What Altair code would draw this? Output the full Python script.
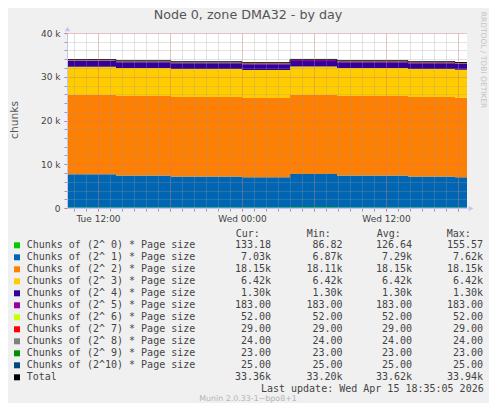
import altair as alt
import pandas as pd

# ---------------- data ----------------
times = ["2026-04-14T09:25:00", "2026-04-14T13:30:00", "2026-04-14T18:05:00",
         "2026-04-15T00:00:00", "2026-04-15T04:00:00", "2026-04-15T07:55:00",
         "2026-04-15T13:50:00", "2026-04-15T17:45:00", "2026-04-15T18:45:00"]

series_names = ["Chunks of (2^ 0) * Page size", "Chunks of (2^ 1) * Page size",
                "Chunks of (2^ 2) * Page size", "Chunks of (2^ 3) * Page size",
                "Chunks of (2^ 4) * Page size", "Chunks of (2^ 5) * Page size",
                "Chunks of (2^ 6) * Page size", "Chunks of (2^ 7) * Page size",
                "Chunks of (2^ 8) * Page size", "Chunks of (2^ 9) * Page size",
                "Chunks of (2^10) * Page size"]
series_colors = ["#00CC00", "#0066B3", "#FF8000", "#FFCC00", "#330099", "#990099",
                 "#CCFF00", "#FF0000", "#808080", "#008F00", "#00487D"]

s0 = [130, 120, 125, 135, 150, 140, 110, 133, 133]
s1 = [7600, 7310, 7090, 6880, 7600, 7300, 7100, 6900, 6900]
s2 = [18150, 18150, 18140, 18130, 18150, 18150, 18150, 18150, 18150]
s3 = [6420, 6420, 6420, 6420, 6420, 6420, 6420, 6420, 6420]
s4 = [1300, 1300, 1300, 1300, 1300, 1300, 1300, 1300, 1300]
s5 = [183, 183, 183, 183, 183, 183, 183, 183, 183]
s6 = [52, 52, 52, 52, 52, 52, 52, 52, 52]
s7 = [29, 29, 29, 29, 29, 29, 29, 29, 29]
s8 = [24, 24, 24, 24, 24, 24, 24, 24, 24]
s9 = [23, 23, 23, 23, 23, 23, 23, 23, 23]
s10 = [25, 25, 25, 25, 25, 25, 25, 25, 25]
series_values = [s0, s1, s2, s3, s4, s5, s6, s7, s8, s9, s10]

leg_names = series_names + ["Total"]
leg_colors = series_colors + ["#000000"]
leg_cur = ["133.18", "7.03k", "18.15k", "6.42k", "1.30k", "183.00", "52.00", "29.00",
           "24.00", "23.00", "25.00", "33.36k"]
leg_min = ["86.82", "6.87k", "18.11k", "6.42k", "1.30k", "183.00", "52.00", "29.00",
           "24.00", "23.00", "25.00", "33.20k"]
leg_avg = ["126.64", "7.29k", "18.15k", "6.42k", "1.30k", "183.00", "52.00", "29.00",
           "24.00", "23.00", "25.00", "33.62k"]
leg_max = ["155.57", "7.62k", "18.15k", "6.42k", "1.30k", "183.00", "52.00", "29.00",
           "24.00", "23.00", "25.00", "33.94k"]
headers = ["Cur:", "Min:", "Avg:", "Max:"]

title_text = ["Node 0, zone DMA32 - by day"]
ytitle_text = ["chunks"]
side_text = ["RRDTOOL / TOBI OETIKER"]
update_text = ["Last update: Wed Apr 15 18:35:05 2026"]
footer_text = ["Munin 2.0.33-1~bpo8+1"]

# ---------------- tables ----------------
rows = []
for i, (name, vals) in enumerate(zip(series_names, series_values)):
    for t, v in zip(times, vals):
        rows.append({"time": t, "series": name, "order": i, "value": v})
df = pd.DataFrame(rows)
tot = pd.DataFrame({"time": times,
                    "total": [sum(v[k] for v in series_values) for k in range(len(times))]})

NB = "\u00a0"
def pad(s):
    return s if s.endswith("k") else s + NB

leg = pd.DataFrame({
    "row": list(range(len(leg_names))),
    "series": leg_names,
    "cur": [pad(s) for s in leg_cur],
    "mn": [pad(s) for s in leg_min],
    "avg": [pad(s) for s in leg_avg],
    "mx": [pad(s) for s in leg_max],
})

def dt(day, h, m=0):
    return alt.DateTime(year=2026, month=4, date=day, hours=h, minutes=m)

color_scale = alt.Scale(domain=leg_names, range=leg_colors)
xscale = alt.Scale(domain=[dt(14, 9, 25), dt(15, 18, 45)])
yscale = alt.Scale(domain=[0, 40000], nice=False, zero=True)

hour_ticks = [dt(14, h) for h in range(10, 24)] + [dt(15, h) for h in range(0, 19)]
major_ticks = [dt(14, 12), dt(14, 18), dt(15, 0), dt(15, 6), dt(15, 12), dt(15, 18)]

MINOR = "#9A9A9A"
MAJOR = "#FF5A5A"
AXC = "#C4C4F4"
TXT = "#444444"

x_minor = alt.X("time:T", scale=xscale, title=None,
                axis=alt.Axis(orient="bottom", values=hour_ticks,
                              grid=True, gridColor=MINOR, gridOpacity=0.55, gridDash=[1, 1],
                              labels=False, ticks=True, tickColor=MINOR, tickSize=3,
                              domain=False, zindex=1))
y_minor = alt.Y("value:Q", scale=yscale, stack="zero", title=None,
                axis=alt.Axis(orient="left", values=list(range(0, 40001, 2000)),
                              grid=True, gridColor=MINOR, gridOpacity=0.55, gridDash=[1, 1],
                              labels=False, ticks=True, tickColor=MINOR, tickSize=3,
                              domain=False, zindex=1))

areas = alt.Chart(df).mark_area(interpolate="step-after", opacity=1).encode(
    x=x_minor,
    y=y_minor,
    color=alt.Color("series:N", scale=color_scale, legend=None),
    order=alt.Order("order:Q", sort="ascending"),
)

x_major = alt.X("time:T", scale=xscale, title=None,
                axis=alt.Axis(orient="bottom", values=major_ticks,
                              grid=True, gridColor=MAJOR, gridOpacity=0.45, gridDash=[1, 1],
                              labelExpr="hours(datum.value) % 12 == 0 ? timeFormat(datum.value, '%a %H:%M') : ''",
                              labelFont="DejaVu Sans", labelFontSize=9, labelColor=TXT,
                              labelPadding=3, labelOverlap=False, labelFlush=False,
                              ticks=True, tickColor=MAJOR, tickOpacity=0.45, tickSize=3,
                              domain=True, domainColor=AXC, zindex=1))
y_major = alt.Y("total:Q", scale=yscale, title=None,
                axis=alt.Axis(orient="left", values=[0, 10000, 20000, 30000, 40000],
                              grid=True, gridColor=MAJOR, gridOpacity=0.45, gridDash=[1, 1],
                              labelExpr="datum.value == 0 ? '0' : format(datum.value / 1000, 'd') + ' k'",
                              labelFont="DejaVu Sans", labelFontSize=9, labelColor=TXT,
                              labelPadding=4, ticks=True, tickColor=MAJOR, tickOpacity=0.45,
                              tickSize=3, domain=True, domainColor=AXC, zindex=1))

total_line = alt.Chart(tot).mark_line(interpolate="step-after", color="#000000",
                                       strokeWidth=1).encode(x=x_major, y=y_major)

# axis arrows
arrows = alt.Chart(pd.DataFrame({"a": [0]})).mark_point(
    shape="triangle-up", filled=True, size=30, color=AXC, opacity=1
).encode(x=alt.value(0.5), y=alt.value(-4))
arrows2 = alt.Chart(pd.DataFrame({"a": [0]})).mark_point(
    shape="triangle-right", filled=True, size=30, color=AXC, opacity=1
).encode(x=alt.value(404), y=alt.value(175.5))

# ---------------- legend table ----------------
rowy = alt.Y("row:Q", scale=alt.Scale(domain=[0, 11], range=[212.3, 344.3]), axis=None)
base_leg = alt.Chart(leg)
swatch = base_leg.mark_square(size=36, opacity=1).encode(
    x=alt.value(-50), y=rowy,
    color=alt.Color("series:N", scale=color_scale, legend=None))
mono = dict(font="DejaVu Sans Mono", fontSize=10, color=TXT, baseline="middle")
lab = base_leg.mark_text(align="left", **mono).encode(x=alt.value(-40.3), y=rowy, text="series:N")
c_cur = base_leg.mark_text(align="right", **mono).encode(x=alt.value(204), y=rowy, text="cur:N")
c_min = base_leg.mark_text(align="right", **mono).encode(x=alt.value(275.5), y=rowy, text="mn:N")
c_avg = base_leg.mark_text(align="right", **mono).encode(x=alt.value(345), y=rowy, text="avg:N")
c_max = base_leg.mark_text(align="right", **mono).encode(x=alt.value(416), y=rowy, text="mx:N")

hdr_x = [168.7, 239.7, 309.7, 379.7]
hdr_layers = [
    alt.Chart(pd.DataFrame({"t": [h]})).mark_text(align="left", **mono).encode(
        x=alt.value(hx), y=alt.value(201), text="t:N")
    for h, hx in zip(headers, hdr_x)
]

def txt(arr, **kw):
    return alt.Chart(pd.DataFrame({"t": arr})).mark_text(**kw)

title = txt(title_text, align="center", baseline="middle", font="DejaVu Sans",
            fontSize=12.7, color="#555555").encode(x=alt.value(181), y=alt.value(-18), text="t:N")
ytitle = txt(ytitle_text, align="center", baseline="middle", font="DejaVu Sans",
             fontSize=10.7, color="#555555", angle=270).encode(x=alt.value(-52), y=alt.value(87), text="t:N")
side = txt(side_text, align="center", baseline="middle", font="DejaVu Sans",
           fontSize=7.5, color="#C4C4C4", angle=90).encode(x=alt.value(416), y=alt.value(27), text="t:N")
update = txt(update_text, align="right", **mono).encode(x=alt.value(416.7), y=alt.value(356.3), text="t:N")
footer = txt(footer_text, align="center", baseline="middle", font="DejaVu Sans",
             fontSize=7.9, color="#B4B4B4").encode(x=alt.value(181), y=alt.value(366), text="t:N")

chart = alt.layer(
    areas, total_line, arrows, arrows2,
    swatch, lab, c_cur, c_min, c_avg, c_max, *hdr_layers,
    title, ytitle, side, update, footer,
).resolve_scale(y="independent").resolve_axis(x="independent", y="independent").properties(
    width=400, height=175,
    autosize=alt.AutoSizeParams(type="none"),
    padding={"left": 59, "top": 25, "right": 22, "bottom": 195},
    background="#F0F0F0",
).configure_view(stroke=None, fill="#FFFFFF")

chart.save("out.html", embed_options={"renderer": "svg", "actions": False})
